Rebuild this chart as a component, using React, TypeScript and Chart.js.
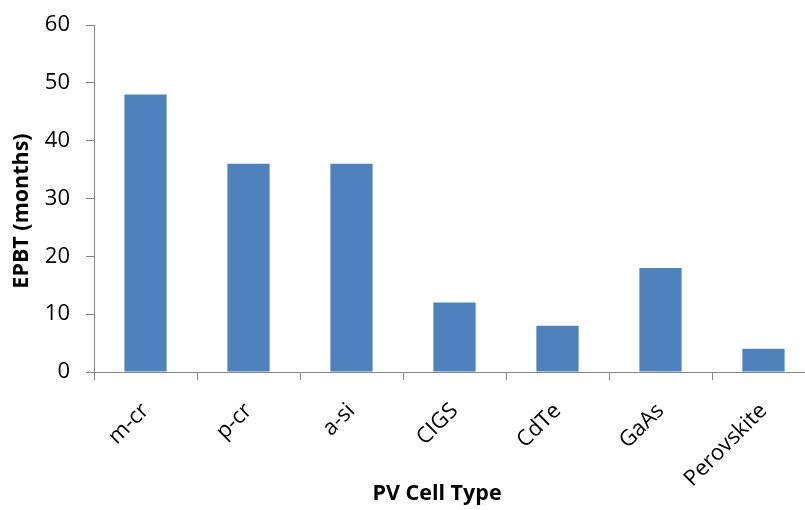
import React, { useEffect, useRef } from "react";
import { Chart, registerables } from "chart.js";

Chart.register(...registerables);

const categories = ["m-cr", "p-cr", "a-si", "CIGS", "CdTe", "GaAs", "Perovskite"];
const epbtMonths = [48, 36, 36, 12, 8, 18, 4];
const yTicks = [0, 10, 20, 30, 40, 50, 60];
const xTitle = "PV Cell Type";
const yTitle = "EPBT (months)";

const FONT = "'Open Sans', 'Liberation Sans', sans-serif";
const AXIS = "#868686";

const titlesPlugin = {
  id: "axisTitles",
  afterDraw(chart: any) {
    const ctx = chart.ctx;
    ctx.save();
    ctx.fillStyle = "#000";
    ctx.font = `bold 21.5px ${FONT}`;
    ctx.textAlign = "center";
    ctx.textBaseline = "middle";
    ctx.fillText(xTitle, 437, 494);
    ctx.translate(22, 211);
    ctx.rotate(-Math.PI / 2);
    ctx.fillText(yTitle, 0, 0);
    ctx.restore();
  },
};

export default function App() {
  const ref = useRef<HTMLCanvasElement>(null);
  useEffect(() => {
    if (!ref.current) return;
    const chart = new Chart(ref.current, {
      type: "bar",
      data: {
        labels: categories,
        datasets: [
          {
            data: epbtMonths,
            backgroundColor: "#4F81BD",
            borderWidth: 0,
            categoryPercentage: 1,
            barPercentage: 0.41,
          },
        ],
      },
      options: {
        responsive: false,
        animation: false,
        devicePixelRatio: 1,
        layout: { padding: { left: 0, top: 25, right: 15, bottom: 0 } },
        plugins: { legend: { display: false }, tooltip: { enabled: false } },
        scales: {
          x: {
            offset: true,
            grid: { display: true, drawOnChartArea: false, drawTicks: true, tickLength: 8, color: AXIS, offset: true },
            border: { color: AXIS, width: 1 },
            ticks: {
              color: "#000",
              font: { family: FONT, size: 22 },
              maxRotation: 45,
              minRotation: 45,
              padding: 18,
              autoSkip: false,
            },
            afterFit(scale: any) {
              scale.height = 138;
              scale.paddingLeft = 0;
              scale.paddingRight = 0;
            },
          },
          y: {
            min: 0,
            max: 60,
            afterBuildTicks(scale: any) {
              scale.ticks = yTicks.map((v) => ({ value: v }));
            },
            grid: { display: true, drawOnChartArea: false, drawTicks: true, tickLength: 8, color: AXIS },
            border: { color: AXIS, width: 1 },
            ticks: {
              color: "#000",
              font: { family: FONT, size: 22 },
              padding: 16,
            },
            afterFit(scale: any) {
              scale.width = 94;
              scale.paddingTop = 0;
              scale.paddingBottom = 0;
            },
          },
        },
      },
      plugins: [titlesPlugin],
    });
    return () => chart.destroy();
  }, []);
  return (
    <div style={{ position: "fixed", left: 0, top: 0, width: 805, height: 510, overflow: "hidden", background: "#fff" }}>
      <canvas ref={ref} width={830} height={510} style={{ width: 830, height: 510, display: "block" }} />
    </div>
  );
}
